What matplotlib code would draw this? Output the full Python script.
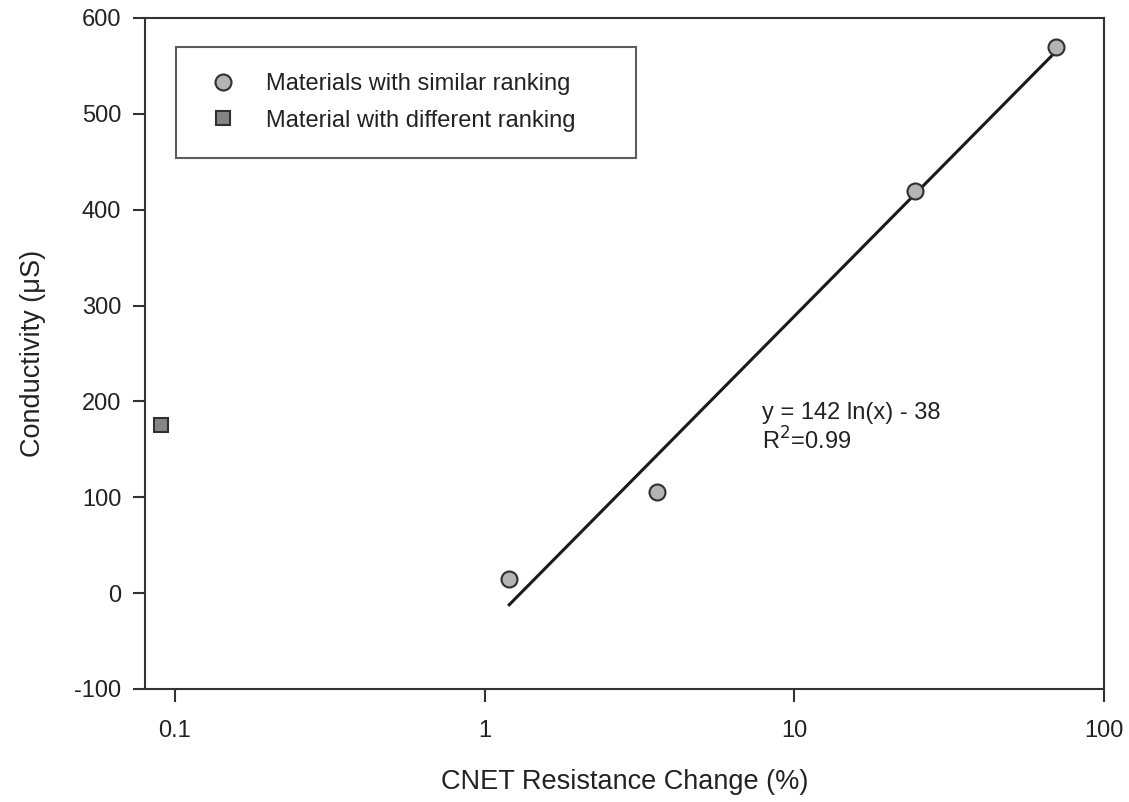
import numpy as np
import matplotlib
matplotlib.use("Agg")
import matplotlib.pyplot as plt
from matplotlib.ticker import FixedLocator, NullLocator, FixedFormatter

plt.rcParams['font.family'] = ['Liberation Sans', 'DejaVu Sans']
plt.rcParams['axes.unicode_minus'] = False

similar_x = [1.2, 3.6, 24.5, 70.0]
similar_y = [15, 105, 420, 570]
different_x = [0.09]
different_y = [175]
fit_a = 142
fit_b = -38
fit_range = [1.2, 70.0]
xticks = [0.1, 1, 10, 100]
xticklabels = ['0.1', '1', '10', '100']
yticks = [-100, 0, 100, 200, 300, 400, 500, 600]

fig = plt.figure(figsize=(11.29, 8.02), dpi=100)
ax = fig.add_axes([0.1284, 0.1409, 0.978 - 0.1284, 0.9776 - 0.1409])

xf = np.geomspace(fit_range[0], fit_range[1], 200)
ax.plot(xf, fit_a * np.log(xf) + fit_b, color='#1a1a1a', lw=2.2, zorder=2)

ax.plot(similar_x, similar_y, 'o', ms=11.5, mfc='#b4b4b4', mec='#303030', mew=1.5,
        ls='none', label='Materials with similar ranking', zorder=3)
ax.plot(different_x, different_y, 's', ms=10, mfc='#858585', mec='#303030', mew=1.5,
        ls='none', label='Material with different ranking', zorder=3)

ax.set_xscale('log')
ax.set_xlim(0.08, 100)
ax.set_ylim(-100, 600)
ax.xaxis.set_major_locator(FixedLocator(xticks))
ax.xaxis.set_major_formatter(FixedFormatter(xticklabels))
ax.xaxis.set_minor_locator(NullLocator())
ax.set_yticks(yticks)
ax.set_yticklabels([str(v) for v in yticks])

for s in ax.spines.values():
    s.set_linewidth(1.5)
    s.set_color('#333333')
ax.tick_params(axis='both', which='major', direction='out', length=9, width=1.5,
               color='#333333', labelsize=17, labelcolor='#222222')
ax.tick_params(axis='y', pad=8)
ax.tick_params(axis='x', pad=13)

ax.set_xlabel('CNET Resistance Change (%)', fontsize=19.5, color='#222222', labelpad=20)
ax.set_ylabel('Conductivity (\u03bcS)', fontsize=19.5, color='#222222', labelpad=20)

ax.text(7.83, 199, 'y = 142 ln(x) - 38\nR$^{2}$=0.99', fontsize=17, color='#222222',
        va='top', ha='left', linespacing=1.15)

leg = ax.legend(loc='upper left', bbox_to_anchor=(0.0323, 0.9568, 0.480, 0.0),
                mode='expand', fontsize=17,
                frameon=True, fancybox=False, edgecolor='#333333', borderpad=1.1,
                handletextpad=0.95, labelspacing=0.62, borderaxespad=0, handlelength=1.75)
leg.get_frame().set_linewidth(1.5)
for t in leg.get_texts():
    t.set_color('#222222')

fig.savefig('out.png', dpi=100)
